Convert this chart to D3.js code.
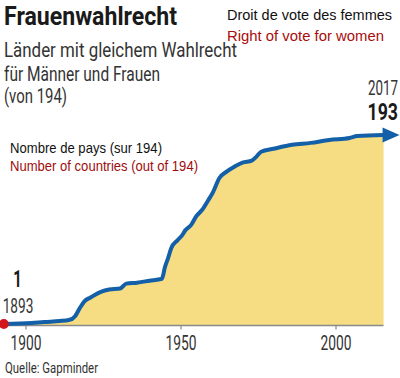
<!DOCTYPE html>
<html><head><meta charset="utf-8">
<script src="https://cdn.jsdelivr.net/npm/d3@7"></script>
<style>body{margin:0;background:#fff}svg{display:block}</style>
</head><body>
<script>
const years  = [1893, 1902, 1906, 1911, 1914, 1916, 1917.5, 1919, 1921, 1924.5, 1927, 1930.5, 1932.5, 1936, 1940, 1944, 1945, 1946, 1947, 1949, 1950.5, 1951.5, 1953.5, 1955, 1957, 1959, 1960.5, 1962.5, 1965, 1967.5, 1970, 1973, 1974.5, 1976, 1980, 1986, 1992, 1998, 2004.5, 2007, 2015.5];
const values = [1, 2, 3, 4, 5, 9, 17, 24, 28, 34, 36, 37, 42, 43, 45, 47, 59, 68, 78, 86, 91, 96, 102, 110, 117, 127, 135, 149, 156, 161, 165, 167, 171, 176, 179, 183, 185, 188, 190, 192, 193];
const tickYears = [1900, 1950, 2000];
const titleText = "Frauenwahlrecht";
const subtitleLines = ["Länder mit gleichem Wahlrecht", "für Männer und Frauen", "(von 194)"];
const legendFr = "Droit de vote des femmes";
const legendEn = "Right of vote for women";
const axisFr = "Nombre de pays (sur 194)";
const axisEn = "Number of countries (out of 194)";
const source = "Quelle: Gapminder";
const total = 194;

const data = years.map((y, i) => ({year: y, value: values[i]}));
const W = 400, H = 378;
const svg = d3.select("body").append("svg").attr("width", W).attr("height", H);

const x = d3.scaleLinear().domain([1893, 2017]).range([3.8, 388.2]);
const y = d3.scaleLinear().domain([0, total]).range([325, 134]);

const cond = "Roboto, 'DejaVu Sans', sans-serif";
const arial = "'Liberation Sans', Arial, sans-serif";

function txt(t, px, py, opts) {
  const e = svg.append("text").attr("x", px).attr("y", py).text(t)
    .attr("font-family", opts.font || cond)
    .attr("font-size", opts.size)
    .attr("font-weight", opts.weight || 400)
    .attr("fill", opts.fill || "#222");
  if (opts.anchor) e.attr("text-anchor", opts.anchor);
  if (opts.len) e.attr("textLength", opts.len).attr("lengthAdjust", "spacingAndGlyphs");
  return e;
}

// area
const area = d3.area().x(d => x(d.year)).y0(y(0)).y1(d => y(d.value)).curve(d3.curveMonotoneX);
svg.append("path").datum(data).attr("d", area).attr("fill", "#f6dc82");

// axis
const axis = d3.axisBottom(x).tickValues(tickYears).tickFormat(d3.format("d")).tickSize(4).tickSizeOuter(0);
const gx = svg.append("g").attr("transform", `translate(0,${y(0) + 0.5})`).call(axis);
gx.select(".domain").attr("stroke", "#8a8a8a").attr("stroke-width", 1.5)
  .attr("d", `M${x(1893)},0H${x(2015.5)}`);
gx.selectAll(".tick line").attr("stroke", "#8a8a8a").attr("stroke-width", 1.2);
gx.selectAll(".tick text").attr("y", 24.5).attr("dy", 0)
  .attr("font-family", cond).attr("font-size", 20).attr("fill", "#333")
  .attr("textLength", 31).attr("lengthAdjust", "spacingAndGlyphs");

// line
const line = d3.line().x(d => x(d.year)).y(d => y(d.value)).curve(d3.curveMonotoneX);
svg.append("path").datum(data).attr("d", line).attr("fill", "none")
  .attr("stroke", "#135fa8").attr("stroke-width", 4).attr("stroke-linejoin", "round");

// arrow head
const last = data[data.length - 1];
const ax = x(last.year), ay = y(last.value);
svg.append("path").attr("d", `M${ax - 1},${ay - 7.5}L${ax + 16},${ay}L${ax - 1},${ay + 7.5}Z`).attr("fill", "#135fa8");

// start dot
svg.append("circle").attr("cx", x(data[0].year)).attr("cy", y(data[0].value)).attr("r", 5).attr("fill", "#d0161b");

// titles
txt(titleText, 4, 25, {size: 25, weight: 700, len: 173, fill: "#1a1a1a"});
const subBase = [57, 80.5, 103];
const subLen = [233, 156, 63];
subtitleLines.forEach((s, i) => txt(s, 4, subBase[i], {size: 20, weight: 400, len: subLen[i], fill: "#333"}));

txt(legendFr, 227, 20, {font: arial, size: 15, fill: "#111", len: 165});
txt(legendEn, 227, 40.5, {font: arial, size: 15, fill: "#a80c0c", len: 157});

txt(axisFr, 10, 153.3, {font: arial, size: 15, fill: "#111", len: 152});
txt(axisEn, 10, 170.5, {font: arial, size: 15, fill: "#a00c0c", len: 188});

// annotations
txt(String(data[0].value), 13.3, 286.7, {size: 24, weight: 700, fill: "#1a1a1a", len: 8.5});
txt(String(data[0].year), 2.7, 312.7, {size: 21, fill: "#333", len: 30.6});
txt("2017", 398, 95, {size: 21, fill: "#333", len: 30, anchor: "end"});
txt(String(last.value), 398, 120, {size: 24, weight: 700, fill: "#1a1a1a", len: 30.5, anchor: "end"});

txt(source, 5, 373.3, {size: 14, fill: "#333", len: 93});
</script>
</body></html>
